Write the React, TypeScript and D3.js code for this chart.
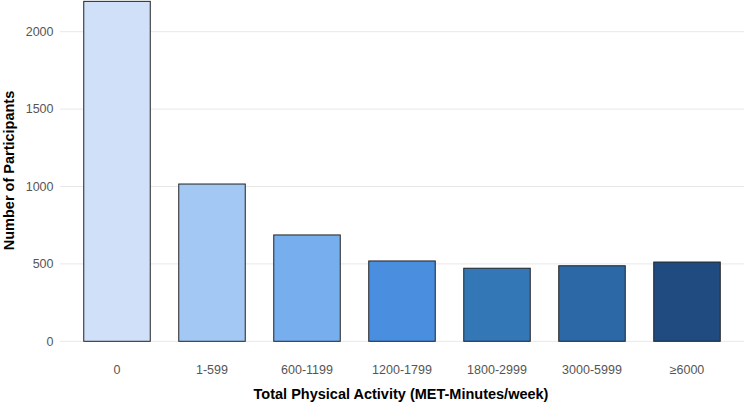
import React, { useEffect, useRef } from 'react';
import * as d3 from 'd3';

const categories = ['0', '1-599', '600-1199', '1200-1799', '1800-2999', '3000-5999', '≥6000'];
const counts = [2196, 1016, 687, 519, 472, 488, 512];
const fills = ['#cfe0f8', '#a3c8f3', '#77aeee', '#4a8ee0', '#3477b7', '#2d68a6', '#1f4b80'];
const yTicks = [0, 500, 1000, 1500, 2000];

const W = 744;
const H = 402;

const App = () => {
    const svgRef = useRef<SVGSVGElement>(null);

    useEffect(() => {
        const svg = d3.select(svgRef.current);
        svg.selectAll('*').remove();

        const font = 'Arial, "Liberation Sans", Helvetica, sans-serif';

        const x = d3.scaleBand<string>()
            .domain(categories)
            .range([60, 744])
            .paddingInner(0.3)
            .paddingOuter(0.25);

        const y = d3.scaleLinear()
            .domain([0, 2000])
            .range([341.3, 31.7]);

        // gridlines
        svg.append('g')
            .selectAll('line')
            .data(yTicks)
            .enter()
            .append('line')
            .attr('x1', 60)
            .attr('x2', 744)
            .attr('y1', (d) => y(d))
            .attr('y2', (d) => y(d))
            .attr('stroke', '#e8e8e8')
            .attr('stroke-width', 1);

        // y tick labels
        svg.append('g')
            .selectAll('text')
            .data(yTicks)
            .enter()
            .append('text')
            .attr('x', 53.5)
            .attr('y', (d) => y(d))
            .attr('dy', '0.35em')
            .attr('text-anchor', 'end')
            .style('font-family', font)
            .style('font-size', '12.5px')
            .style('fill', '#555555')
            .text((d) => d);

        // bars
        svg.append('g')
            .selectAll('rect')
            .data(categories)
            .enter()
            .append('rect')
            .attr('x', (d) => x(d)!)
            .attr('width', x.bandwidth())
            .attr('y', (_, i) => y(counts[i]))
            .attr('height', (_, i) => y(0) - y(counts[i]))
            .attr('fill', (_, i) => fills[i])
            .attr('stroke', '#222222')
            .attr('stroke-width', 1);

        // x tick labels
        svg.append('g')
            .selectAll('text')
            .data(categories)
            .enter()
            .append('text')
            .attr('x', (d) => x(d)! + x.bandwidth() / 2)
            .attr('y', 369.5)
            .attr('dy', '0.35em')
            .attr('text-anchor', 'middle')
            .style('font-family', font)
            .style('font-size', '12.5px')
            .style('fill', '#555555')
            .text((d) => d);

        svg.append('text')
            .attr('x', 401)
            .attr('y', 399)
            .attr('text-anchor', 'middle')
            .style('font-family', font)
            .style('font-size', '14.5px')
            .style('font-weight', 'bold')
            .style('fill', '#000')
            .text('Total Physical Activity (MET-Minutes/week)');

        svg.append('text')
            .attr('transform', 'rotate(-90)')
            .attr('x', -170.5)
            .attr('y', 13.5)
            .attr('text-anchor', 'middle')
            .style('font-family', font)
            .style('font-size', '14.5px')
            .style('font-weight', 'bold')
            .style('fill', '#000')
            .text('Number of Participants');
    }, []);

    return (
        <svg
            ref={svgRef}
            width={W}
            height={H}
            style={{ position: 'absolute', left: 0, top: 0, background: '#fff' }}
        />
    );
};

export default App;
